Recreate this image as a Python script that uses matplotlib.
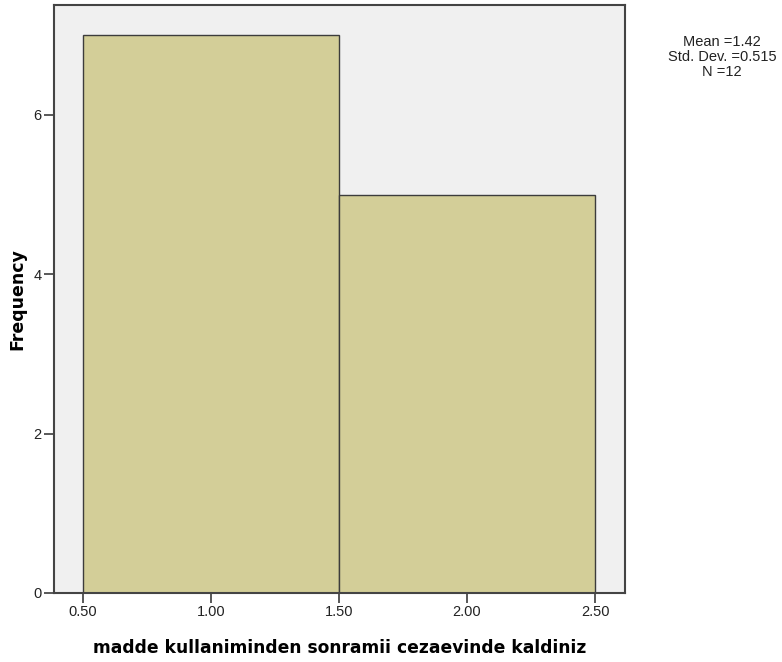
import numpy as np
import matplotlib
matplotlib.use('Agg')
import matplotlib.pyplot as plt

plt.rcParams['font.family'] = ['Liberation Sans', 'DejaVu Sans']

# histogram bins and frequencies
bin_edges = [0.5, 1.5, 2.5]
counts = [7, 5]
x_ticks = [0.5, 1.0, 1.5, 2.0, 2.5]
y_ticks = [0, 2, 4, 6]
stats_text = "Mean =1.42\nStd. Dev. =0.515\nN =12"

fig = plt.figure(figsize=(7.82, 6.62), dpi=100)
ax = fig.add_axes([54 / 782, 1 - 593 / 662, (625 - 54) / 782, (593 - 5) / 662])
ax.set_facecolor('#f0f0f0')

edges = np.array(bin_edges)
ax.bar(edges[:-1], counts, width=np.diff(edges), align='edge',
       color='#d3ce98', edgecolor='#3c3c3c', linewidth=1.0)

ax.set_xlim(0.387, 2.617)
ax.set_ylim(0, 7.38)
ax.set_xticks(x_ticks)
ax.set_xticklabels([f"{v:.2f}" for v in x_ticks])
ax.set_yticks(y_ticks)
ax.tick_params(axis='both', direction='out', length=7, width=1.2,
               color='#3c3c3c', labelsize=10.5, labelcolor='#222222', pad=2)

for s in ax.spines.values():
    s.set_color('#444444')
    s.set_linewidth(1.5)

ax.set_xlabel('madde kullaniminden sonramii cezaevinde kaldiniz',
              fontsize=12.3, fontweight='bold', family='DejaVu Sans', labelpad=14)
ax.set_ylabel('Frequency', fontsize=12.5, fontweight='bold',
              family='DejaVu Sans', labelpad=5)

fig.text(722 / 782, 1 - 57 / 662, stats_text, ha='center', va='center',
         fontsize=10.5, linespacing=1.1, color='#222222')

fig.savefig('out.png', dpi=100)
